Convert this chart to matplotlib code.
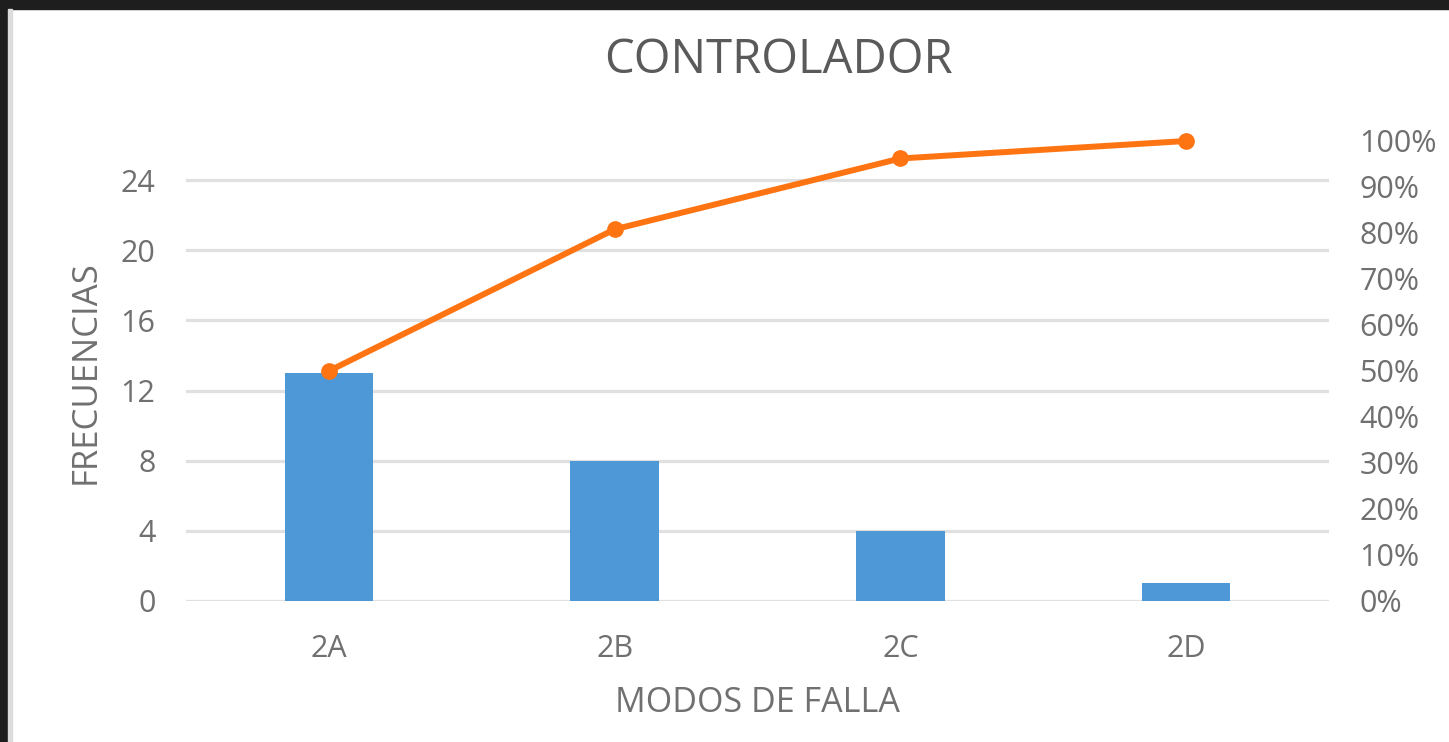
import matplotlib
matplotlib.use("Agg")
import matplotlib.pyplot as plt
from matplotlib.patches import Rectangle

categories = ["2A", "2B", "2C", "2D"]
frequencies = [13, 8, 4, 1]
cumulative_pct = [50.0, 80.8, 96.2, 100.0]
left_ticks = [0, 4, 8, 12, 16, 20, 24]
right_ticks = [0, 10, 20, 30, 40, 50, 60, 70, 80, 90, 100]

plt.rcParams['font.family'] = ['Open Sans', 'DejaVu Sans']

W, H = 1449, 742
fig = plt.figure(figsize=(W / 100, H / 100), dpi=100)
fig.patch.set_facecolor("white")

# dark screenshot frame on top/left and light chart border
fig.add_artist(Rectangle((0, 1 - 9 / H), 1, 9 / H, transform=fig.transFigure,
                         color="#1e1e1e", zorder=0))
fig.add_artist(Rectangle((0, 0), 8 / W, 1, transform=fig.transFigure,
                         color="#1e1e1e", zorder=0))
fig.add_artist(Rectangle((8 / W, 0), 4 / W, 1 - 9 / H, transform=fig.transFigure,
                         color="#dcdcdc", zorder=0))

x0, x1, yb, yt = 186, 1329, 601, 141
ax = fig.add_axes([x0 / W, 1 - yb / H, (x1 - x0) / W, (yb - yt) / H])
ax.set_facecolor("none")
ymax = (yb - yt) / ((601 - 180) / 24)
ax.set_ylim(0, ymax)
ax.set_xlim(-0.5, len(categories) - 0.5)

xs = list(range(len(categories)))
ax.bar(xs, frequencies, width=0.31, color="#4f98d8", zorder=3)

ax.set_yticks(left_ticks)
ax.set_yticklabels([str(t) for t in left_ticks])
ax.set_xticks(xs)
ax.set_xticklabels(categories)
ax.grid(axis="y", color="#e0e0e0", linewidth=2.3, zorder=0)
ax.set_axisbelow(True)
for s in ax.spines.values():
    s.set_visible(False)
ax.tick_params(axis="both", length=0, labelsize=22, labelcolor="#707070")
ax.tick_params(axis="y", pad=22)
ax.tick_params(axis="x", pad=24)

ax2 = ax.twinx()
ax2.set_ylim(0, 100)
ax2.plot(xs, cumulative_pct, color="#ff7412", linewidth=4.3, marker="o",
         markersize=11, zorder=5, solid_capstyle="round", clip_on=False)
ax2.set_yticks(right_ticks)
ax2.set_yticklabels([f"{t}%" for t in right_ticks])
for s in ax2.spines.values():
    s.set_visible(False)
ax2.tick_params(axis="y", length=0, labelsize=22, labelcolor="#707070", pad=22)

fig.text(778 / W, 1 - 60 / H, "CONTROLADOR", ha="center", va="center",
         fontsize=34, color="#5a5a5a")
fig.text(757 / W, 1 - 703 / H, "MODOS DE FALLA", ha="center", va="center",
         fontsize=24.5, color="#707070")
fig.text(86 / W, 1 - 372 / H, "FRECUENCIAS", ha="center", va="center",
         rotation=90, fontsize=25, color="#707070")

fig.savefig("out.png", dpi=100)
